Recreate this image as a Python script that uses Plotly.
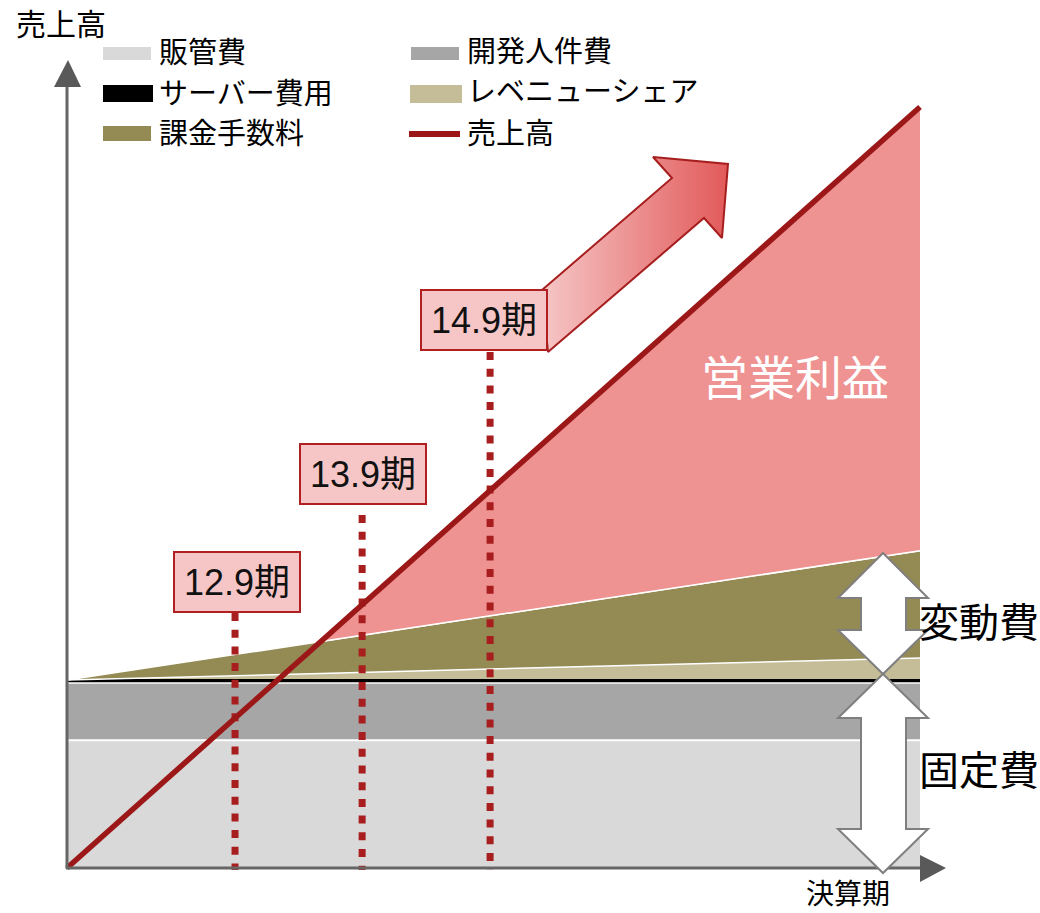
import numpy as np
import plotly.graph_objects as go

# ---- data (abstract units: x = time horizon, y = amount) ----
horizon = [0.0, 10.0]
sga_cost = [16.8, 16.8]          # 販管費
dev_staff_cost = [7.5, 7.5]      # 開発人件費
server_cost = [0.4, 0.4]         # サーバー費用
revenue_share = [0.0, 2.9]       # レベニューシェア
billing_fee = [0.0, 14.1]        # 課金手数料
sales = [0.0, 100.0]             # 売上高
milestone_x = [1.97, 3.46, 4.96]
milestone_labels = ["12.9期", "13.9期", "14.9期"]

W, H = 1040, 913
X0, XS = 67.0, 85.3      # pixel of x=0, pixels per x unit
Y0, YS = 868.0, 7.61     # pixel of y=0, pixels per y unit


def dx(px):
    return (px - X0) / XS


def dy(py):
    return (Y0 - py) / YS


def path_from(points):
    pts = [f"{dx(px):.4f},{dy(py):.4f}" for px, py in points]
    return "M" + " L".join(pts) + " Z"


JP = "Noto Sans CJK JP"
C_SGA = "#d9d9d9"
C_DEV = "#a6a6a6"
C_SERVER = "#000000"
C_REV = "#c4bd97"
C_FEE = "#948a54"
C_PROFIT = "#ee9292"
C_SALES = "#9c1818"
C_DOT = "#a81e1e"
C_AXIS = "#666666"

x = np.array(horizon)
s1 = np.array(sga_cost)
s2 = s1 + np.array(dev_staff_cost)
s3 = s2 + np.array(server_cost)
s4 = s3 + np.array(revenue_share)
s5 = s4 + np.array(billing_fee)
sal = np.array(sales)

fig = go.Figure()

# stacked cost areas
fig.add_trace(go.Scatter(x=x, y=s1, mode="lines", fill="tozeroy", fillcolor=C_SGA,
                         line=dict(color="white", width=2), hoverinfo="skip"))
fig.add_trace(go.Scatter(x=x, y=s2, mode="lines", fill="tonexty", fillcolor=C_DEV,
                         line=dict(color="white", width=1.5), hoverinfo="skip"))
fig.add_trace(go.Scatter(x=x, y=s3, mode="lines", fill="tonexty", fillcolor=C_SERVER,
                         line=dict(color=C_SERVER, width=2), hoverinfo="skip"))
fig.add_trace(go.Scatter(x=x, y=s4, mode="lines", fill="tonexty", fillcolor=C_REV,
                         line=dict(color="white", width=1.5), hoverinfo="skip"))
fig.add_trace(go.Scatter(x=x, y=s5, mode="lines", fill="tonexty", fillcolor=C_FEE,
                         line=dict(color="white", width=1.5), hoverinfo="skip"))

# operating profit: region where sales exceed total cost
diff = sal - s5
t = -diff[0] / (diff[1] - diff[0])
xi = x[0] + t * (x[1] - x[0])
yi = sal[0] + t * (sal[1] - sal[0])
fig.add_trace(go.Scatter(x=[xi, x[1], x[1], xi], y=[yi, sal[1], s5[1], yi],
                         mode="lines", fill="toself", fillcolor=C_PROFIT,
                         line=dict(width=0), hoverinfo="skip"))
fig.add_trace(go.Scatter(x=[xi, x[1]], y=[yi, s5[1]], mode="lines",
                         line=dict(color="white", width=1.5), hoverinfo="skip"))

# milestone guide lines (drawn from the label down to the axis)
label_bottom_px = [613, 515, 352]
for mx, top_px in zip(milestone_x, label_bottom_px):
    fig.add_trace(go.Scatter(x=[mx, mx], y=[dy(top_px), dy(870)], mode="lines",
                             line=dict(color=C_DOT, width=7, dash="8px,8.7px"),
                             hoverinfo="skip"))

# sales line
fig.add_trace(go.Scatter(x=x, y=sal, mode="lines",
                         line=dict(color=C_SALES, width=5.5), hoverinfo="skip"))

# growth arrow with gradient fill
arrow_px = [(542, 290), (672, 178), (653, 157), (728, 164), (722, 238), (704, 218), (548, 352), (542, 290)]
fig.add_trace(go.Scatter(x=[dx(p[0]) for p in arrow_px], y=[dy(p[1]) for p in arrow_px],
                         mode="lines", fill="toself",
                         fillgradient=dict(type="horizontal",
                                           colorscale=[[0, "#f6c6c6"], [1, "#e25a5a"]]),
                         line=dict(color="#a61e1e", width=2), hoverinfo="skip"))

shapes = []
# axes with arrow heads
shapes.append(dict(type="line", xref="x", yref="y", x0=dx(67), x1=dx(67), y0=dy(869), y1=dy(84),
                   line=dict(color=C_AXIS, width=3)))
shapes.append(dict(type="path", xref="x", yref="y",
                   path=path_from([(54, 87), (68, 60), (81, 87)]),
                   fillcolor="#595959", line=dict(width=0)))
shapes.append(dict(type="line", xref="x", yref="y", x0=dx(66), x1=dx(922), y0=dy(868), y1=dy(868),
                   line=dict(color=C_AXIS, width=3)))
shapes.append(dict(type="path", xref="x", yref="y",
                   path=path_from([(920, 855), (946, 868), (920, 882)]),
                   fillcolor="#595959", line=dict(width=0)))

# double arrows for variable / fixed cost
upper = [(883, 553), (928, 598), (906, 598), (906, 630), (928, 630), (883, 674),
         (838, 630), (861, 630), (861, 598), (838, 598)]
lower = [(883, 674), (928, 718), (906, 718), (906, 829), (928, 829), (883, 873),
         (838, 829), (861, 829), (861, 718), (838, 718)]
for poly in (upper, lower):
    shapes.append(dict(type="path", xref="x", yref="y", path=path_from(poly),
                       fillcolor="white", line=dict(color="#7f7f7f", width=2)))

# legend swatches
def px_rect(x0, y0, x1, y1, color):
    return dict(type="rect", xref="paper", yref="paper",
                x0=x0 / W, x1=x1 / W, y0=1 - y1 / H, y1=1 - y0 / H,
                fillcolor=color, line=dict(width=0))


shapes.append(px_rect(103, 47, 151, 60, C_SGA))
shapes.append(px_rect(103, 85, 153, 102, C_SERVER))
shapes.append(px_rect(103, 126, 151, 141, C_FEE))
shapes.append(px_rect(411, 47, 459, 60, C_DEV))
shapes.append(px_rect(410, 85, 462, 103, C_REV))
shapes.append(dict(type="line", xref="paper", yref="paper",
                   x0=409 / W, x1=460 / W, y0=1 - 134 / H, y1=1 - 134 / H,
                   line=dict(color=C_SALES, width=6)))

annotations = []


def px_text(text, px, py, size, color="black", xanchor="left", family=JP):
    annotations.append(dict(text=text, xref="paper", yref="paper", x=px / W, y=1 - py / H,
                            xanchor=xanchor, yanchor="middle", showarrow=False,
                            font=dict(family=family, size=size, color=color)))


legend_items = [("販管費", 157, 50), ("サーバー費用", 157, 91), ("課金手数料", 157, 131),
                ("開発人件費", 465, 49), ("レベニューシェア", 465, 89), ("売上高", 465, 131)]
for txt, lx, ly in legend_items:
    px_text(txt, lx, ly, 29)

px_text("売上高", 14, 22, 30)
px_text("決算期", 848, 892, 28, xanchor="center")
px_text("変動費", 917, 620, 40)
px_text("固定費", 917, 768, 40)
px_text("営業利益", 795, 374, 47, color="white", xanchor="center")

# milestone labels
label_center_px = [(237, 582), (363, 474), (484, 320)]
for lab, (cx, cy) in zip(milestone_labels, label_center_px):
    annotations.append(dict(text=lab, xref="paper", yref="paper", x=cx / W, y=1 - cy / H,
                            xanchor="center", yanchor="middle", showarrow=False,
                            width=122, height=56, borderpad=1,
                            bgcolor="#f6c6c6", bordercolor="#b02020", borderwidth=2,
                            font=dict(family="Liberation Sans, " + JP, size=36, color="#111111")))

fig.update_layout(
    width=W, height=H,
    margin=dict(l=0, r=0, t=0, b=0),
    paper_bgcolor="white", plot_bgcolor="white",
    showlegend=False,
    xaxis=dict(range=[dx(0), dx(W)], visible=False, fixedrange=True),
    yaxis=dict(range=[dy(H), dy(0)], visible=False, fixedrange=True),
    shapes=shapes,
    annotations=annotations,
)

fig.write_html("out.html")
